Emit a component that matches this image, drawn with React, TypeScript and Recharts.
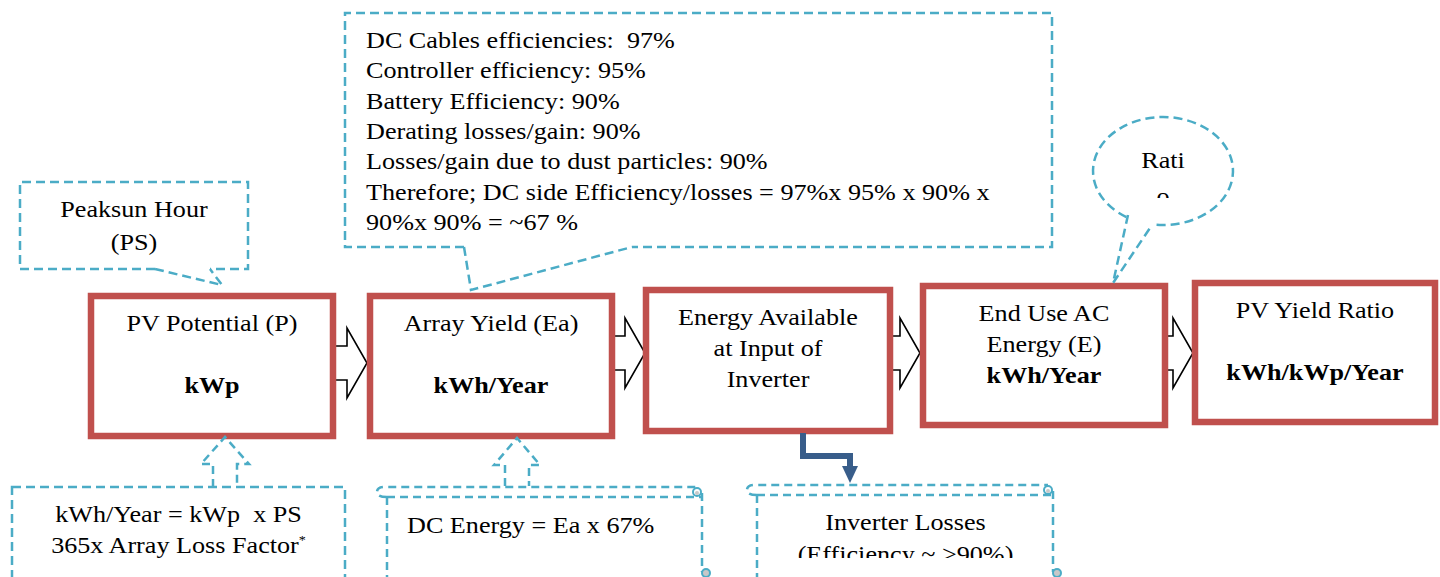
import React from "react";
import { ScatterChart, Scatter, XAxis, YAxis, ReferenceArea } from "recharts";

type Box = { x1: number; x2: number; y1: number; y2: number };
type Pt = { x: number; y: number };

const FONT = "'Liberation Serif', 'Times New Roman', Times, serif";
const RED = "#C0504D";
const CYAN = "#4BACC6";
const NAVY = "#385D8A";
const DASH = "9 5";
const FS = 24;
const SX = 1.09; // the source text is a little wide

// chart units: 1 unit = 1px, y grows downwards
const stepBoxes: Box[] = [
  { x1: 91, x2: 333, y1: 296, y2: 436 },
  { x1: 370, x2: 612, y1: 296, y2: 436 },
  { x1: 646, x2: 890, y1: 290, y2: 431 },
  { x1: 923, x2: 1165, y1: 286, y2: 425 },
  { x1: 1195, x2: 1435, y1: 283, y2: 422 },
];
const stepLines = [
  ["PV Potential (P)", ""],
  ["Array Yield (Ea)", ""],
  ["Energy Available", "at Input of", "Inverter"],
  ["End Use AC", "Energy (E)"],
  ["PV Yield Ratio", ""],
];
const stepUnits = ["kWp", "kWh/Year", "", "kWh/Year", "kWh/kWp/Year"];

// block arrows between steps
const flowArrows = [
  { x1: 333, x2: 367, y: 363 },
  { x1: 612, x2: 645, y: 353 },
  { x1: 890, x2: 920, y: 353 },
  { x1: 1165, x2: 1193, y: 353 },
];

// callouts
const peakBox: Box = { x1: 20, x2: 248, y1: 182, y2: 269 };
const peakTail: Pt[] = [{ x: 155, y: 269 }, { x: 222, y: 285 }, { x: 210, y: 269 }];
const peakLines = ["Peaksun Hour", "(PS)"];

const dcBox: Box = { x1: 345, x2: 1052, y1: 13, y2: 247 };
const dcTail: Pt[] = [{ x: 464, y: 247 }, { x: 471, y: 290 }, { x: 632, y: 247 }];
const dcLines = [
  "DC Cables efficiencies:  97%",
  "Controller efficiency: 95%",
  "Battery Efficiency: 90%",
  "Derating losses/gain: 90%",
  "Losses/gain due to dust particles: 90%",
  "Therefore; DC side Efficiency/losses = 97%x 95% x 90% x",
  "90%x 90% = ~67 %",
];

const ratioBox: Box = { x1: 1093, x2: 1233, y1: 117, y2: 225 };
const ratioTail: Pt[] = [{ x: 1128, y: 215 }, { x: 1113, y: 283 }, { x: 1152, y: 225 }];
const ratioLines = ["Rati", "o"];

const lossBox: Box = { x1: 12, x2: 345, y1: 487, y2: 620 };
const lossLines = ["kWh/Year = kWp  x PS", "365x Array Loss Factor"];

const dcEnergyBox: Box = { x1: 377, x2: 708, y1: 487, y2: 575 };
const dcEnergyText = "DC Energy = Ea x 67%";

const inverterBox: Box = { x1: 747, x2: 1059, y1: 485, y2: 575 };
const inverterLines = ["Inverter Losses", "(Efficiency ~ >90%)"];

const upArrows: Box[] = [
  { x1: 201, x2: 249, y1: 437, y2: 487 },
  { x1: 494, x2: 540, y1: 438, y2: 486 },
];

const elbowPath: Pt[] = [
  { x: 803, y: 433 },
  { x: 803, y: 456 },
  { x: 850, y: 456 },
  { x: 850, y: 468 },
];
const elbowTip: Pt[] = [{ x: 850, y: 483 }];

const Txt = ({ x, y, children, anchor = "middle", bold = false }: any) => (
  <text
    transform={`translate(${x},${y}) scale(${SX},1)`}
    textAnchor={anchor}
    fontFamily={FONT}
    fontSize={FS}
    fontWeight={bold ? 700 : 400}
    fill="#000"
    style={{ whiteSpace: "pre" }}
  >
    {children}
  </text>
);

const blank = () => <g />;

const stepShape = (i: number) => (p: any) => {
  const { x, y, width, height } = p;
  const lines = [...stepLines[i], stepUnits[i]];
  return (
    <g>
      <rect x={x} y={y} width={width} height={height} fill="#fff" stroke={RED} strokeWidth={6.5} />
      {lines.map((t, k) => (
        <Txt key={k} x={x + width / 2} y={y + 35 + k * 31} bold={k === lines.length - 1 && stepUnits[i] !== ""}>
          {t}
        </Txt>
      ))}
    </g>
  );
};

const flowArrowShape = (p: any) => {
  const { x, y, width: w, height: h } = p;
  const cy = y + h / 2;
  const hx = x + w - 20;
  return (
    <path
      d={`M${x},${cy - 17} H${hx} V${y} L${x + w},${cy} L${hx},${y + h} V${cy + 17} H${x}`}
      fill="#fff"
      stroke="#000"
      strokeWidth={1.6}
    />
  );
};

const upArrowShape = (p: any) => {
  const { x, y, width: w, height: h } = p;
  const cx = x + w / 2;
  return (
    <path
      d={`M${cx - 12},${y + h} V${y + 27} H${x} L${cx},${y} L${x + w},${y + 27} H${cx + 12} V${y + h}`}
      fill="none"
      stroke={CYAN}
      strokeWidth={2.5}
      strokeDasharray="8 5"
    />
  );
};

// dashed rectangle with an opening in the bottom edge where the tail leaves
const gapRect = (b: Box, tail: Pt[], p: any) => {
  const { x, y, width: w, height: h } = p;
  const px = (v: number) => x + ((v - b.x1) * w) / (b.x2 - b.x1);
  const g1 = Math.min(px(tail[0].x), px(tail[2].x));
  const g2 = Math.max(px(tail[0].x), px(tail[2].x));
  return (
    <path
      d={`M${g1},${y + h} H${x} V${y} H${x + w} V${y + h} H${g2}`}
      fill="none"
      stroke={CYAN}
      strokeWidth={2.5}
      strokeDasharray={DASH}
    />
  );
};

const peakShape = (p: any) => (
  <g>
    {gapRect(peakBox, peakTail, p)}
    {peakLines.map((t, k) => (
      <Txt key={k} x={p.x + p.width / 2} y={p.y + 35 + k * 33}>
        {t}
      </Txt>
    ))}
  </g>
);

const dcShape = (p: any) => (
  <g>
    {gapRect(dcBox, dcTail, p)}
    {dcLines.map((t, k) => (
      <Txt key={k} x={p.x + 21} y={p.y + 35 + k * 30.3} anchor="start">
        {t}
      </Txt>
    ))}
  </g>
);

const ratioShape = (p: any) => {
  const { x, y, width: w, height: h } = p;
  const rx = w / 2;
  const ry = h / 2;
  const cx = x + rx;
  const cy = y + ry;
  const px = (v: number) => x + ((v - ratioBox.x1) * w) / (ratioBox.x2 - ratioBox.x1);
  const py = (v: number) => y + ((v - ratioBox.y1) * h) / (ratioBox.y2 - ratioBox.y1);
  const ang = (q: Pt) => Math.atan2((py(q.y) - cy) / ry, (px(q.x) - cx) / rx);
  const a1 = ang(ratioTail[0]);
  const a2 = ang(ratioTail[2]);
  const s = [cx + rx * Math.cos(a1), cy + ry * Math.sin(a1)];
  const e = [cx + rx * Math.cos(a2), cy + ry * Math.sin(a2)];
  return (
    <g>
      <defs>
        <clipPath id="ratio-clip">
          <rect x={x} y={y} width={w} height={81} />
        </clipPath>
      </defs>
      <path
        d={`M${s[0]},${s[1]} A${rx},${ry} 0 1 1 ${e[0]},${e[1]}`}
        fill="none"
        stroke={CYAN}
        strokeWidth={2.5}
        strokeDasharray={DASH}
      />
      <g clipPath="url(#ratio-clip)">
        {ratioLines.map((t, k) => (
          <Txt key={k} x={cx} y={cy - 3 + k * 36}>
            {t}
          </Txt>
        ))}
      </g>
    </g>
  );
};

const lossShape = (p: any) => {
  const { x, y, width: w, height: h } = p;
  return (
    <g>
      <rect x={x} y={y} width={w} height={h} fill="none" stroke={CYAN} strokeWidth={2.5} strokeDasharray={DASH} />
      <Txt x={x + w / 2} y={y + 35}>
        {lossLines[0]}
      </Txt>
      <Txt x={x + w / 2} y={y + 66}>
        {lossLines[1]}
        <tspan dy={-9} fontSize={13}>
          *
        </tspan>
      </Txt>
    </g>
  );
};

const scrollFrame = (p: any) => {
  const { x, y, width: w, height: h } = p;
  const st = { fill: "none", stroke: CYAN, strokeWidth: 2.5, strokeDasharray: "8 5" };
  return (
    <g>
      <path d={`M${x + 10},${y + 10} Q${x},${y + 10} ${x},${y + 5} Q${x},${y} ${x + 8},${y} H${x + w - 11}`} {...st} />
      <path d={`M${x + 10},${y + 10} H${x + w - 6}`} {...st} />
      <path d={`M${x + 10},${y + 10} V${y + h + 30}`} {...st} />
      <path d={`M${x + w - 6},${y + 6} V${y + h - 3}`} {...st} />
      <circle cx={x + w - 11} cy={y + 5} r={4} fill="none" stroke={CYAN} strokeWidth={2} />
      <circle cx={x + w - 11} cy={y + 6} r={2} fill="#c8c8c8" />
      <circle cx={x + w - 2} cy={y + h - 2} r={4} fill="#c8c8c8" stroke={CYAN} strokeWidth={2} />
    </g>
  );
};

const dcEnergyShape = (p: any) => (
  <g>
    {scrollFrame(p)}
    <Txt x={p.x + 30} y={p.y + 46} anchor="start">
      {dcEnergyText}
    </Txt>
  </g>
);

const inverterShape = (p: any) => (
  <g>
    <defs>
      <clipPath id="inv-clip">
        <rect x={p.x} y={p.y} width={p.width} height={73} />
      </clipPath>
    </defs>
    {scrollFrame(p)}
    <g clipPath="url(#inv-clip)">
      {inverterLines.map((t, k) => (
        <Txt key={k} x={p.x + (p.width + 5) / 2} y={p.y + 45 + k * 32}>
          {t}
        </Txt>
      ))}
    </g>
  </g>
);

const tipShape = (p: any) => {
  const { cx, cy } = p;
  return <path d={`M${cx - 8},${cy - 17} L${cx + 8},${cy - 17} L${cx},${cy} Z`} fill={NAVY} />;
};

const tailLine = { stroke: CYAN, strokeWidth: 2.5, strokeDasharray: DASH };

export default function App() {
  return (
    <div style={{ position: "absolute", left: 0, top: 0, background: "#fff" }}>
      <ScatterChart width={1440} height={577} margin={{ top: 0, right: 0, bottom: 0, left: 0 }}>
        <XAxis type="number" dataKey="x" domain={[0, 1440]} allowDataOverflow hide />
        <YAxis type="number" dataKey="y" domain={[0, 577]} allowDataOverflow reversed hide />

        {flowArrows.map((a, i) => (
          <ReferenceArea
            key={`fa${i}`}
            x1={a.x1}
            x2={a.x2}
            y1={a.y - 35}
            y2={a.y + 35}
            ifOverflow="visible"
            shape={flowArrowShape}
          />
        ))}
        {stepBoxes.map((b, i) => (
          <ReferenceArea key={`st${i}`} x1={b.x1} x2={b.x2} y1={b.y1} y2={b.y2} ifOverflow="visible" shape={stepShape(i)} />
        ))}
        {upArrows.map((b, i) => (
          <ReferenceArea key={`ua${i}`} x1={b.x1} x2={b.x2} y1={b.y1} y2={b.y2} ifOverflow="visible" shape={upArrowShape} />
        ))}

        <ReferenceArea {...peakBox} ifOverflow="visible" shape={peakShape} />
        <ReferenceArea {...dcBox} ifOverflow="visible" shape={dcShape} />
        <ReferenceArea {...ratioBox} ifOverflow="visible" shape={ratioShape} />
        <ReferenceArea {...lossBox} ifOverflow="visible" shape={lossShape} />
        <ReferenceArea {...dcEnergyBox} ifOverflow="visible" shape={dcEnergyShape} />
        <ReferenceArea {...inverterBox} ifOverflow="visible" shape={inverterShape} />

        <Scatter data={peakTail} line={tailLine} shape={blank} isAnimationActive={false} />
        <Scatter data={dcTail} line={tailLine} shape={blank} isAnimationActive={false} />
        <Scatter data={ratioTail} line={tailLine} shape={blank} isAnimationActive={false} />
        <Scatter
          data={elbowPath}
          line={{ stroke: NAVY, strokeWidth: 6, strokeLinejoin: "miter" }}
          shape={blank}
          isAnimationActive={false}
        />
        <Scatter data={elbowTip} shape={tipShape} isAnimationActive={false} />
      </ScatterChart>
    </div>
  );
}
